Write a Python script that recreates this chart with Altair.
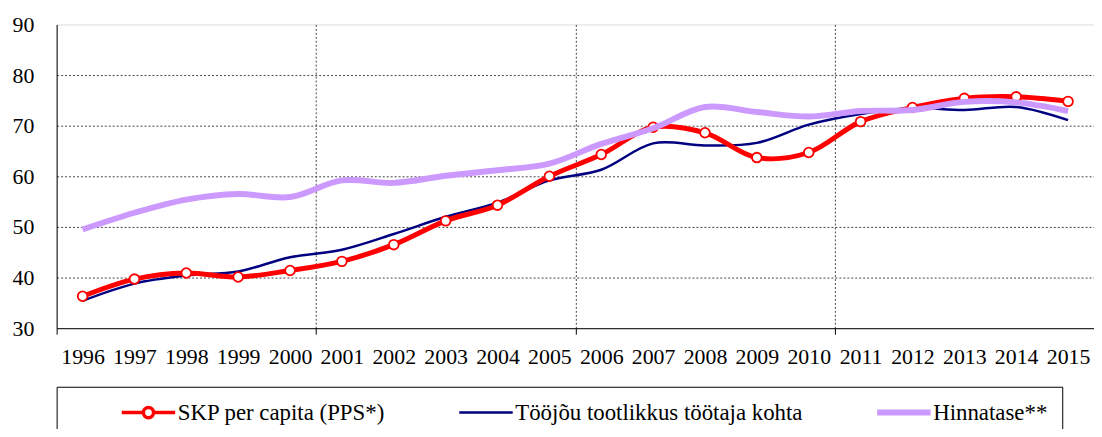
import altair as alt
import pandas as pd

years = list(range(1996, 2016))
names = ["SKP per capita (PPS*)", "Tööjõu tootlikkus töötaja kohta", "Hinnatase**"]
gdp = [36.3, 39.7, 40.9, 40.1, 41.4, 43.2, 46.5, 51.2, 54.3, 60.0,
       64.3, 69.7, 68.6, 63.7, 64.7, 70.8, 73.6, 75.4, 75.7, 74.8]
prod = [35.4, 38.8, 40.4, 41.2, 44.0, 45.5, 48.6, 52.0, 54.8, 59.2,
        61.3, 66.5, 66.1, 66.6, 70.2, 72.3, 73.5, 73.1, 73.7, 71.1]
price = [49.5, 52.8, 55.4, 56.5, 55.9, 59.2, 58.7, 60.1, 61.2, 62.5,
         66.4, 69.5, 73.7, 72.7, 71.8, 72.9, 73.1, 74.7, 74.6, 72.9]
colors = ["#FF0000", "#000080", "#CC99FF"]
y_ticks = [30, 40, 50, 60, 70, 80, 90]
boundary_ticks = [1995.5, 2000.5, 2005.5, 2010.5]

df = pd.DataFrame({
    "year": years * 3,
    "series": [names[0]] * len(years) + [names[1]] * len(years) + [names[2]] * len(years),
    "value": gdp + prod + price,
})

FONT = "Liberation Serif"
EM = "\u2003"

red_path = ("M-1,0H-0.19M0.19,0H1M0.19,0A0.19,0.19,0,1,1,-0.19,0"
            "A0.19,0.19,0,1,1,0.19,0Z")

legend = alt.Legend(
    orient="none", legendX=0, legendY=365, direction="horizontal",
    title="MM", titleOrient="left", titleFont=FONT, titleFontSize=22,
    titlePadding=7, titleOpacity=0,
    labelFont=FONT, labelFontSize=23, labelColor="black", labelLimit=1000,
    labelExpr="datum.label == '" + names[2] + "' ? datum.label + '" + EM + EM + "' : datum.label",
    symbolType={"expr": "(datum.value == '" + names[0] + "' ? '" + red_path + "' : 'stroke')"},
    symbolSize=2900,
    symbolStrokeWidth={"expr": "(datum.value == '" + names[0] + "' ? 3.5 : (datum.value == '" + names[2] + "' ? 6 : 2.5))"},
    symbolFillColor="white", columnPadding=73, clipHeight=22,
    labelOffset=1, strokeColor="black", fillColor="white", padding=15,
)

x_enc = alt.X(
    "year:Q",
    scale=alt.Scale(domain=[1995.5, 2015.5], nice=False, zero=False),
    axis=alt.Axis(
        values=boundary_ticks + years, title=None,
        labelExpr="datum.value % 1 == 0 ? '' + datum.value : ''",
        labelOverlap=False, labelFlush=False, labelFont=FONT, labelFontSize=22,
        labelColor="black", labelPadding=13,
        tickSize=6, tickColor="black",
        tickOpacity={"condition": {"test": "datum.value % 1 != 0", "value": 1}, "value": 0},
        grid=True, gridColor="#444444", gridDash=[2, 2],
        gridOpacity={"condition": {"test": "datum.value % 1 != 0 && datum.value > 1996", "value": 1}, "value": 0},
        domainColor="black",
    ),
)
y_enc = alt.Y(
    "value:Q",
    scale=alt.Scale(domain=[30, 90], nice=False, zero=False),
    axis=alt.Axis(
        values=y_ticks, title=None, ticks=False, tickSize=0, labelPadding=23,
        labelFont=FONT, labelFontSize=22, labelColor="black",
        grid=True, gridColor="#444444", gridDash=[2, 2],
        gridOpacity={"condition": {"test": "datum.value > 30 && datum.value < 90", "value": 1}, "value": 0},
        domainColor="black",
    ),
)
color_enc = alt.Color("series:N", scale=alt.Scale(domain=names, range=colors), legend=legend)

base = alt.Chart(df)

blue = base.transform_filter(alt.datum.series == names[1]).mark_line(
    strokeWidth=2.5, interpolate="catmull-rom").encode(x=x_enc, y=y_enc, color=color_enc)
red = base.transform_filter(alt.datum.series == names[0]).mark_line(
    strokeWidth=5, interpolate="catmull-rom").encode(x=x_enc, y=y_enc, color=color_enc)
red_pts = base.transform_filter(alt.datum.series == names[0]).mark_point(
    filled=True, fill="white", stroke="#FF0000", strokeWidth=1.8, size=95, opacity=1
).encode(x=x_enc, y=y_enc)
purple = base.transform_filter(alt.datum.series == names[2]).mark_line(
    strokeWidth=6, interpolate="catmull-rom").encode(x=x_enc, y=y_enc, color=color_enc)

chart = alt.layer(blue, red, red_pts, purple).properties(
    width=1045, height=306,
    autosize=alt.AutoSizeParams(type="none"),
    padding={"left": 49, "top": 15, "right": 0, "bottom": 100},
).configure_view(stroke="black", strokeWidth=1).configure(background="white")

chart.save("out.html", embed_options={"renderer": "svg", "actions": False})
